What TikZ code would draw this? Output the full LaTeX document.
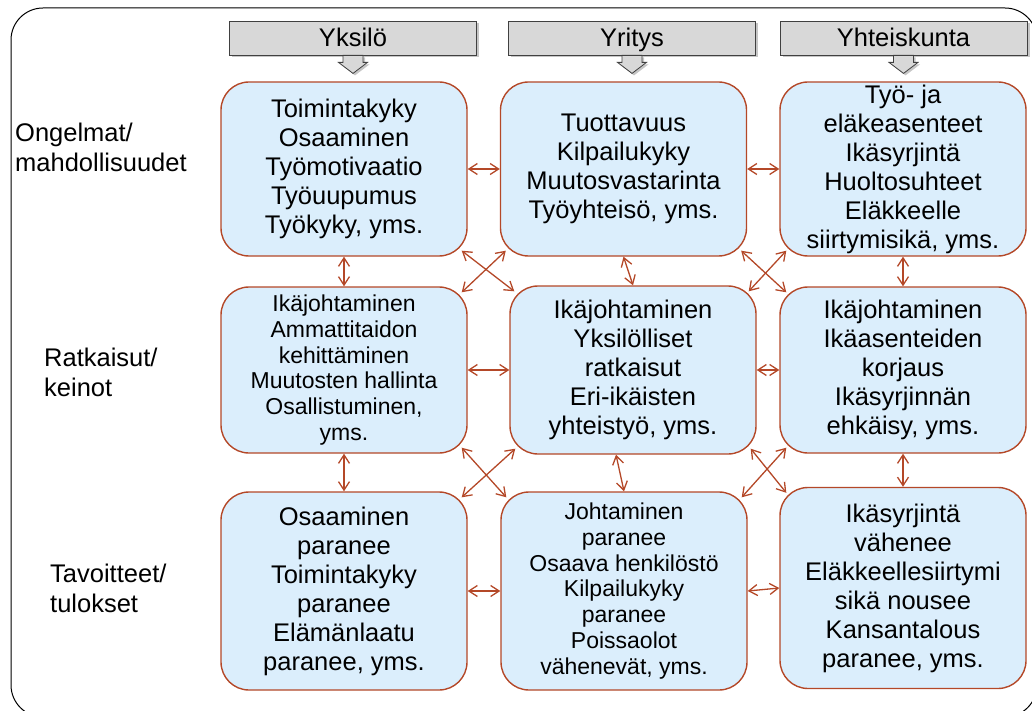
\documentclass[tikz,border=0pt]{standalone}
\usepackage{fontspec}
\setmainfont{Liberation Sans}
\usetikzlibrary{shapes,arrows.meta,calc,shadows}
\definecolor{boxfill}{RGB}{219,238,252}
\definecolor{boxline}{RGB}{180,72,40}
\definecolor{hdrfill}{RGB}{216,216,216}
\tikzstyle{block} = [rectangle, draw=boxline, line width=1.4pt, fill=boxfill,
    rounded corners=28pt, minimum width=246pt, align=center, inner sep=0pt,
    font=\fontsize{25.5}{29}\selectfont]
\tikzstyle{smalltext} = [font=\fontsize{23}{25.8}\selectfont]
\tikzstyle{header} = [rectangle, draw=black!75, line width=0.8pt, fill=hdrfill,
    minimum width=247pt, minimum height=34pt, inner sep=0pt,
    text height=20pt, text depth=3pt,
    font=\fontsize{25.5}{29}\selectfont,
    drop shadow={shadow xshift=2.5pt, shadow yshift=-2.5pt, opacity=0.45}]
\tikzstyle{hdrarrow} = [draw=black!75, line width=0.8pt, fill=hdrfill,
    drop shadow={shadow xshift=2pt, shadow yshift=-2pt, opacity=0.45}]
\tikzstyle{sidetext} = [anchor=west, align=left, inner sep=0pt,
    font=\fontsize{25.5}{30}\selectfont]
\tikzstyle{link} = [draw=boxline, line width=1.3pt, <->,
    >={Straight Barb[length=8.5pt,width=11pt]}]

\begin{document}
\begin{tikzpicture}[x=1pt, y=-1pt, node distance=279.5pt]
    \useasboundingbox (0,0) rectangle (1032,711);
    \clip (0,0) rectangle (1032,711);
    \draw [line width=1pt, rounded corners=32pt] (11,8) rectangle (1037,717);
    % Place nodes
    \node [header] (hyks) at (353,38) {Yksilö};
    \node [header] (hyri) at (632,38) {Yritys};
    \node [header] (hyht) at (903.5,38) {Yhteiskunta};
    \foreach \h in {hyks,hyri,hyht}
        \path [hdrarrow] ([xshift=-10pt]\h.south) -- ++(0,7) -- ++(-4.5,0)
            -- ++(14.5,11) -- ++(14.5,-11) -- ++(-4.5,0) -- ++(0,-7) -- cycle;

    \node [sidetext] (lonl) at (15,147) {Ongelmat/\\mahdollisuudet};
    \node [sidetext] (lrat) at (44,372) {Ratkaisut/\\keinot};
    \node [sidetext] (ltav) at (50,588) {Tavoitteet/\\tulokset};

    \node [block, minimum height=174pt] (r1c1) at (344,169) {Toimintakyky\\Osaaminen\\Työmotivaatio\\Työuupumus\\Työkyky, yms.};
    \node [block, minimum height=174pt, right of=r1c1] (r1c2) {Tuottavuus\\Kilpailukyky\\Muutosvastarinta\\Työyhteisö, yms.};
    \node [block, minimum height=174pt, right of=r1c2] (r1c3) {Työ- ja\\eläkeasenteet\\Ikäsyrjintä\\Huoltosuhteet\\Eläkkeelle\\siirtymisikä, yms.};
    \node [block, smalltext, minimum height=166pt, below of=r1c1, node distance=201pt] (r2c1) {Ikäjohtaminen\\Ammattitaidon\\kehittäminen\\Muutosten hallinta\\Osallistuminen,\\yms.};
    \node [block, minimum height=168pt, right of=r2c1, node distance=289pt] (r2c2) {Ikäjohtaminen\\Yksilölliset\\ratkaisut\\Eri-ikäisten\\yhteistyö, yms.};
    \node [block, minimum height=166pt, below of=r1c3, node distance=201pt] (r2c3) {Ikäjohtaminen\\Ikäasenteiden\\korjaus\\Ikäsyrjinnän\\ehkäisy, yms.};
    \node [block, minimum height=198pt, below of=r2c1, node distance=221pt] (r3c1) {Osaaminen\\paranee\\Toimintakyky\\paranee\\Elämänlaatu\\paranee, yms.};
    \node [block, smalltext, minimum height=198pt, right of=r3c1, node distance=280pt] (r3c2) {Johtaminen\\paranee\\Osaava henkilöstö\\Kilpailukyky\\paranee\\Poissaolot\\vähenevät, yms.};
    \node [block, minimum height=201pt, below of=r2c3, node distance=218pt] (r3c3) {Ikäsyrjintä\\vähenee\\Eläkkeellesiirtymi\\sikä nousee\\Kansantalous\\paranee, yms.};
    % Draw edges
    \path [link] (r1c1.east) -- (r1c2.west);
    \path [link] (r1c2.east) -- (r1c3.west);
    \path [link] (r2c1.east) -- (r2c2.west);
    \path [link] (r2c2.east) -- (r2c3.west);
    \path [link] (r3c1.east) -- (r3c2.west);
    \path [link] (r3c2.east) -- (r3c3.west);
    \path [link] (r1c1.south) -- (r2c1.north);
    \path [link] (r2c1.south) -- (r3c1.north);
    \path [link] (r1c2.south) -- (r2c2.north);
    \path [link] ([xshift=-17pt]r2c2.south) -- (r3c2.north);
    \path [link] (r1c3.south) -- (r2c3.north);
    \path [link] (r2c3.south) -- (r3c3.north);
    \path [link] ([shift={(-6,-6)}]r1c1.south east) -- ([shift={(5,6)}]r2c2.north west);
    \path [link] ([shift={(6,-6)}]r1c2.south west) -- ([shift={(-6,6)}]r2c1.north east);
    \path [link] ([shift={(-6,-6)}]r1c2.south east) -- ([shift={(7,6)}]r2c3.north west);
    \path [link] ([shift={(7,-6)}]r1c3.south west) -- ([shift={(-8,6)}]r2c2.north east);
    \path [link] ([shift={(-6,-6)}]r2c1.south east) -- ([shift={(6,6)}]r3c2.north west);
    \path [link] ([shift={(6,-6)}]r2c2.south west) -- ([shift={(-6,6)}]r3c1.north east);
    \path [link] ([shift={(-6,-6)}]r2c2.south east) -- ([shift={(7,6)}]r3c3.north west);
    \path [link] ([shift={(7,-6)}]r2c3.south west) -- ([shift={(-6,6)}]r3c2.north east);
\end{tikzpicture}
\end{document}
